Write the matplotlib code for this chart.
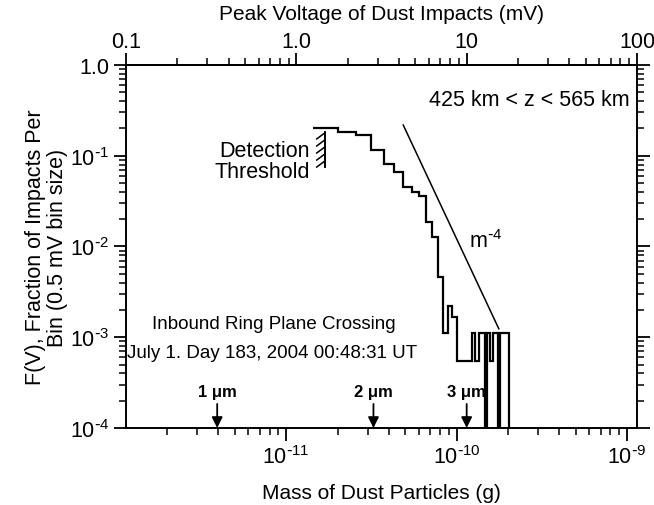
import numpy as np
import matplotlib
matplotlib.use('Agg')
import matplotlib.pyplot as plt
from matplotlib.ticker import FixedLocator, FixedFormatter, NullFormatter, LogLocator

plt.rcParams['font.family'] = ['Liberation Sans', 'DejaVu Sans']
plt.rcParams['mathtext.default'] = 'regular'

# histogram of peak voltages (0.5 mV bins), centres in mV
volt_centers = [1.5, 2.0, 2.5, 3.0, 3.5, 4.0, 4.5, 5.0, 5.5, 6.0, 6.5, 7.0, 7.5, 8.0, 8.5,
                9.0, 9.5, 10.0, 10.5, 11.0, 11.5, 12.0, 12.5, 13.0, 13.5, 14.0, 14.5, 15.0,
                15.5, 16.0, 16.5, 17.0, 17.5, 18.0]
fraction = [0.200, 0.181, 0.169, 0.116, 0.081, 0.066, 0.045, 0.040, 0.036, 0.0186, 0.0127,
            0.0046, 0.0011, 0.0022, 0.00165, 0.00055, 0.00055, 0.00055, 0.00055, 0.0011,
            0.00055, 0.0011, 0.0011, 0.0, 0.0011, 0.00055, 0.0011, 0.0011, 0.0, 0.0011,
            0.0011, 0.0011, 0.0011, 0.0]
bin_width = 0.5

mass_per_mV = 1.146e-11      # g per mV, links the two x scales
threshold_mass = 1.69e-11
threshold_range = [0.075, 0.183]
slope_start = [4.86e-11, 0.218]  # m^-4 reference line (mass, F)
slope_end_mass = 1.77e-10
grain_labels = ['1 \u03bcm', '2 \u03bcm', '3 \u03bcm']
grain_mass = [3.93e-12, 3.25e-11, 1.146e-10]

edges_v = np.concatenate([[volt_centers[0] - bin_width / 2],
                          np.array(volt_centers) + bin_width / 2])
edges_m = edges_v * mass_per_mV
vals = np.where(np.array(fraction) > 0, fraction, 1e-7)

FS = 15.5

fig = plt.figure(figsize=(6.54, 5.06), dpi=100)
ax = fig.add_axes([0.1927, 0.1522, 0.7813, 0.7174])
ax.set_xscale('log')
ax.set_yscale('log')
ax.set_xlim(0.1 * mass_per_mV, 100 * mass_per_mV)
ax.set_ylim(1e-4, 1.0)

ax.stairs(vals, edges_m, baseline=None, color='black', lw=1.6)

# m^-4 line
ms = np.array([slope_start[0], slope_end_mass])
ax.plot(ms, slope_start[1] * (ms / slope_start[0]) ** -4, color='black', lw=1.1)
ax.text(1.48e-10, 0.0115, 'm$^{\\text{-}4}$', fontsize=FS, ha='center', va='center')

# detection threshold
ax.plot([threshold_mass, threshold_mass], threshold_range, color='black', lw=1.4)
for f in np.geomspace(threshold_range[0], threshold_range[1], 6)[:-1]:
    ax.plot([threshold_mass / 1.12, threshold_mass], [f, f * 1.17], color='black', lw=1.1)
ax.text(threshold_mass / 1.23, 0.114, 'Detection', fontsize=FS, ha='right', va='center')
ax.text(threshold_mass / 1.23, 0.067, 'Threshold', fontsize=FS, ha='right', va='center')

# grain size arrows
for lab, m in zip(grain_labels, grain_mass):
    ax.annotate('', xy=(m, 1e-4), xytext=(m, 1.84e-4),
                arrowprops=dict(arrowstyle='-|>', color='black', lw=1.3,
                                mutation_scale=16, shrinkA=0, shrinkB=0))
    ax.text(m, 2.5e-4, lab, fontsize=12, ha='center', va='center', fontweight='bold')

ax.text(0.985, 0.905, '425 km < z < 565 km', transform=ax.transAxes, fontsize=FS,
        ha='right', va='center')
ax.text(0.29, 0.287, 'Inbound Ring Plane Crossing', transform=ax.transAxes, fontsize=13.5,
        ha='center', va='center')
ax.text(0.285, 0.207, 'July 1. Day 183, 2004 00:48:31 UT', transform=ax.transAxes,
        fontsize=13.5, ha='center', va='center')

# axes styling
for s in ax.spines.values():
    s.set_linewidth(1.4)
ax.tick_params(which='major', direction='out', length=9, width=1.3, labelsize=FS, pad=3)
ax.tick_params(which='minor', direction='out', length=5, width=1.1)
ax.tick_params(axis='y', which='both', right=True)
ax.yaxis.set_major_locator(FixedLocator([1e-4, 1e-3, 1e-2, 1e-1, 1.0]))
ax.yaxis.set_major_formatter(FixedFormatter(['10$^{\\text{-}4}$', '10$^{\\text{-}3}$',
                                             '10$^{\\text{-}2}$', '10$^{\\text{-}1}$', '1.0']))
ax.yaxis.set_minor_locator(LogLocator(base=10, subs=np.arange(2, 10), numticks=20))
ax.yaxis.set_minor_formatter(NullFormatter())
ax.xaxis.set_major_locator(FixedLocator([1e-11, 1e-10, 1e-9]))
ax.xaxis.set_major_formatter(FixedFormatter(['10$^{\\text{-}11}$', '10$^{\\text{-}10}$',
                                             '10$^{\\text{-}9}$']))
ax.xaxis.set_minor_locator(LogLocator(base=10, subs=np.arange(2, 10), numticks=20))
ax.xaxis.set_minor_formatter(NullFormatter())
ax.set_xlabel('Mass of Dust Particles (g)', fontsize=15, labelpad=11)
ax.set_ylabel('F(V), Fraction of Impacts Per\nBin (0.5 mV bin size)', fontsize=15.5,
              linespacing=1.05)
ax.yaxis.set_label_coords(-0.113, 0.5)

top = ax.secondary_xaxis('top', functions=(lambda m: m / mass_per_mV,
                                           lambda v: v * mass_per_mV))
top.set_xticks([0.1, 1.0, 10, 100])
top.set_xticklabels(['0.1', '1.0', '10', '100'])
top.xaxis.set_minor_locator(LogLocator(base=10, subs=np.arange(2, 10), numticks=20))
top.xaxis.set_minor_formatter(NullFormatter())
top.tick_params(which='major', direction='out', length=9, width=1.3, labelsize=FS, pad=0)
top.tick_params(which='minor', direction='out', length=5, width=1.1)
top.spines['top'].set_linewidth(1.4)
top.set_xlabel('Peak Voltage of Dust Impacts (mV)', fontsize=15, labelpad=9)

fig.savefig('out.png', dpi=100)
